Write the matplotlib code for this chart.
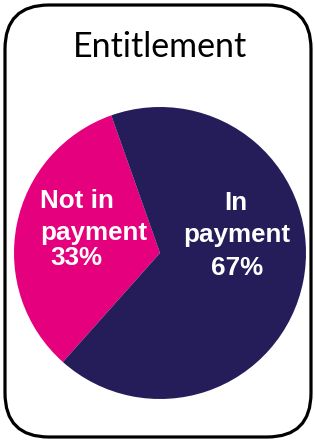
import matplotlib
matplotlib.use('Agg')
import matplotlib.pyplot as plt
from matplotlib.patches import FancyBboxPatch
from matplotlib.transforms import Affine2D

# data
title = 'Entitlement'
labels = ['Not in\npayment', 'In\npayment']
values = [33, 67]
colors = ['#E5007E', '#251D5A']

W, H = 315, 441
fig = plt.figure(figsize=(W / 100, H / 100), dpi=100)


def px(x, y):
    # pixel position from top-left -> figure fraction
    return x / W, 1 - y / H


# rounded frame, drawn in pixel space
frame = FancyBboxPatch((5, 4), 306, 432, boxstyle='round,pad=0,rounding_size=44',
                       fill=False, edgecolor='black', linewidth=2.3,
                       transform=Affine2D().scale(1 / W, 1 / H) + fig.transFigure)
fig.patches.append(frame)

fig.text(*px(160, 57), title, ha='center', va='baseline', fontsize=24.5, family='Lato')

# pie
cx, cy, r = 160, 253, 146
ax = fig.add_axes([(cx - r) / W, (H - cy - r) / H, 2 * r / W, 2 * r / H])
ax.pie(values, colors=colors, startangle=109.5, counterclock=True,
       wedgeprops=dict(linewidth=0))
ax.set_xlim(-1, 1)
ax.set_ylim(-1, 1)

font = dict(color='white', fontweight='bold', fontsize=18.7, family='Liberation Sans')

# left label
l1, l2 = labels[0].split('\n')
fig.text(*px(40, 208), l1, ha='left', va='baseline', **font)
fig.text(*px(40, 240), l2, ha='left', va='baseline', **font)
fig.text(*px(76, 265), f'{values[0]}%', ha='center', va='baseline', **font)

# right label
r1, r2 = labels[1].split('\n')
fig.text(*px(236, 210), r1, ha='center', va='baseline', **font)
fig.text(*px(237, 242), r2, ha='center', va='baseline', **font)
fig.text(*px(237, 275), f'{values[1]}%', ha='center', va='baseline', **font)

fig.savefig('out.png', dpi=100)
